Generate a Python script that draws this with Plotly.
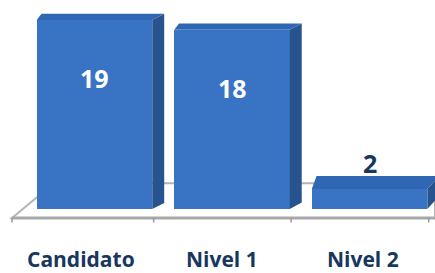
import plotly.graph_objects as go

categories = ["Candidato", "Nivel 1", "Nivel 2"]
values = [19, 18, 2]

# style constants
FRONT = "#3973C4"
SIDE = "#27548F"
TOP = "#3067B4"
NAVY = "#17375E"
BAR_W = 0.84
DX = 0.087          # depth offset in x (data units)
PX_PER_UNIT = 9.95  # vertical pixels per data unit
X_RANGE = [-0.687, 2.476]
Y_RANGE = [-6.43, 21.0]
FONT = "Open Sans"


def top_depth(v):
    # apparent depth of the top face (perspective: lower bars show more top)
    return (13 - (v - 2) * 0.41) / PX_PER_UNIT


x = list(range(len(categories)))

fig = go.Figure()
fig.add_trace(go.Bar(
    x=x, y=values, width=BAR_W,
    marker=dict(color=FRONT, line=dict(width=0)),
    hoverinfo="skip", showlegend=False,
))

shapes = []
# floor (behind bars)
floor_front = -0.9
floor_back = 2.6
floor_left = -0.6
shapes.append(dict(type="path", layer="below",
                   path=f"M {floor_left},{floor_front} L {X_RANGE[1]},{floor_front} L {X_RANGE[1]},{floor_back} L {floor_left+0.305},{floor_back} Z",
                   fillcolor="#FFFFFF", line=dict(color="#B4B4B4", width=2)))
shapes.append(dict(type="line", layer="below", x0=floor_left, x1=X_RANGE[1], y0=floor_front, y1=floor_front,
                   line=dict(color="#A8A8A8", width=3)))
for b in [floor_left] + [i + 0.43 for i in x]:
    shapes.append(dict(type="line", layer="below", x0=b, x1=b, y0=floor_front, y1=floor_front - 0.45,
                       line=dict(color="#9A9A9A", width=1.5)))

# 3D side and top faces, computed from the values
for i, v in zip(x, values):
    l = i - BAR_W / 2
    r = i + BAR_W / 2
    dy = top_depth(v)
    shapes.append(dict(type="path", layer="above",
                       path=f"M {r},0 L {r+DX},{dy} L {r+DX},{v+dy} L {r},{v} Z",
                       fillcolor=SIDE, line=dict(width=0)))
    shapes.append(dict(type="path", layer="above",
                       path=f"M {l},{v} L {r},{v} L {r+DX},{v+dy} L {l+DX*0.4},{v+dy} Z",
                       fillcolor=TOP, line=dict(width=0)))

annotations = []
for i, (c, v) in enumerate(zip(categories, values)):
    inside = v > 5
    annotations.append(dict(x=i, y=(v - 5.8) if inside else (v + 2.6), text=f"<b>{v}</b>",
                            showarrow=False, xanchor="center", yanchor="middle",
                            font=dict(family=FONT, size=25, color="#FFFFFF" if inside else NAVY)))
    annotations.append(dict(x=i, y=-5.0, text=f"<b>{c}</b>", xshift=-13.5 + 3.5 * i,
                            showarrow=False, xanchor="center", yanchor="middle",
                            font=dict(family=FONT, size=21, color=NAVY)))

fig.update_layout(
    width=435, height=273,
    margin=dict(l=0, r=0, t=0, b=0),
    paper_bgcolor="white", plot_bgcolor="white",
    xaxis=dict(range=X_RANGE, visible=False, fixedrange=True),
    yaxis=dict(range=Y_RANGE, visible=False, fixedrange=True),
    shapes=shapes, annotations=annotations,
    showlegend=False, bargap=0,
)

fig.write_html("out.html", config={"displayModeBar": False},
               post_script="document.body.style.margin='0';document.body.style.overflow='hidden';")
